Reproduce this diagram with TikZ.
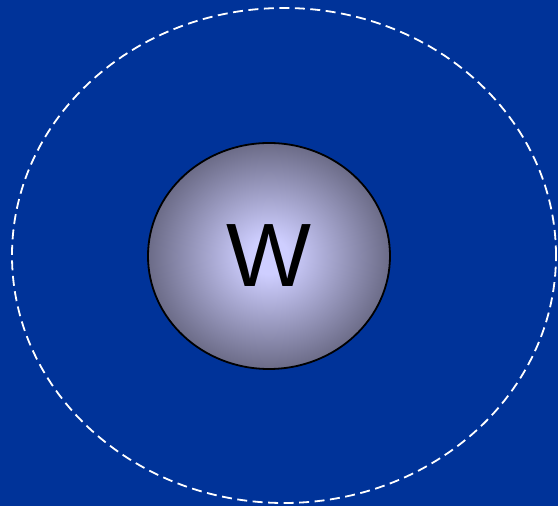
\documentclass[tikz,border=0pt]{standalone}
\usepackage{fontspec}
\setmainfont{Liberation Sans}
\usepackage{tikz}
\usetikzlibrary{shapes.geometric}
\definecolor{bgblue}{RGB}{0,51,153}
\definecolor{ballLight}{RGB}{206,206,255}
\definecolor{ballDark}{RGB}{98,98,124}
\pgfdeclareradialshading{ballshade}{\pgfpoint{0bp}{0bp}}{%
  color(0bp)=(ballLight); color(4bp)=(ballLight); color(27bp)=(ballDark); color(50bp)=(ballDark)}

\begin{document}
\begin{tikzpicture}[x=1pt, y=1pt,
            orbit/.style={ellipse, draw=white, line width=1.8pt, dash pattern=on 10pt off 5.5pt, inner sep=0pt},
            ball/.style={ellipse, draw=black, line width=1.8pt, shading=ballshade, inner sep=0pt,
                         font=\fontsize{90}{90}\selectfont}
        ]
            % Background
            \fill [bgblue] (0,0) rectangle (558,506);
            \useasboundingbox (0,0) rectangle (558,506);

            % Dashed ring
            \node [orbit, minimum width=544pt, minimum height=495pt] (ring) at (284,250.5) {};

            % Shaded ball
            \node [ball, minimum width=242pt, minimum height=226pt] (w) at (269,250) {W};
        \end{tikzpicture}
\end{document}
